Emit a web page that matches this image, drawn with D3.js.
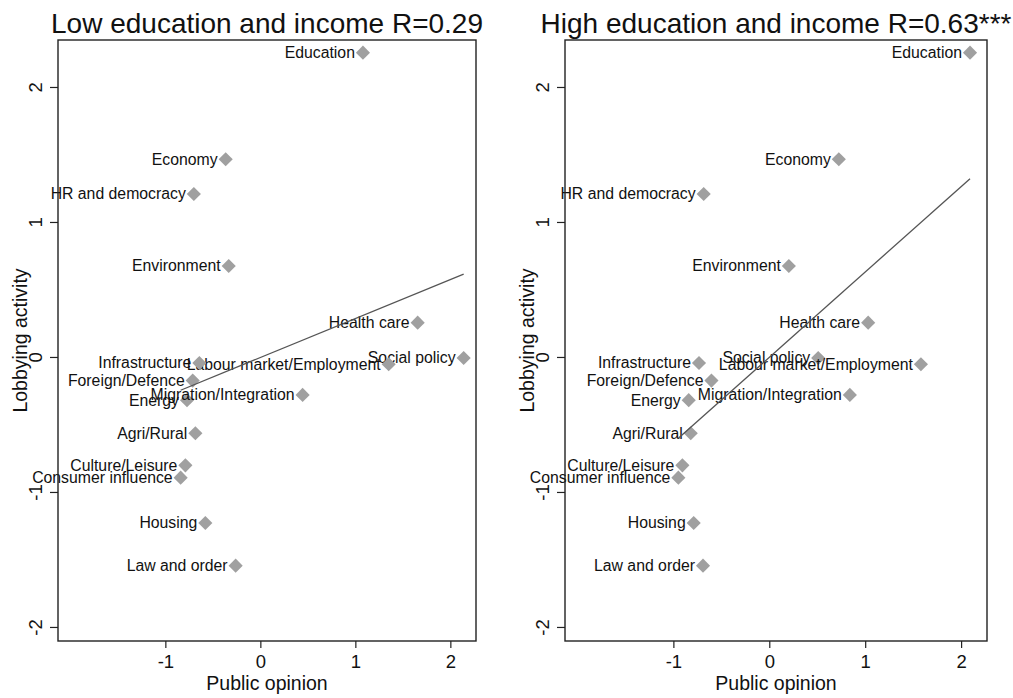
<!DOCTYPE html>
<html>
<head>
<meta charset="utf-8">
<script src="https://cdn.jsdelivr.net/npm/d3@7"></script>
<style>
  html, body { margin: 0; padding: 0; background: #fff; }
  svg { display: block; font-family: "Liberation Sans", Arial, Helvetica, sans-serif; }
</style>
</head>
<body>
<svg id="chart" width="1013" height="698"></svg>
<script>
// Policy areas (one point each)
const topics = [
  "Education", "Economy", "HR and democracy", "Environment", "Health care",
  "Social policy", "Labour market/Employment", "Infrastructure", "Foreign/Defence",
  "Energy", "Migration/Integration", "Agri/Rural", "Culture/Leisure",
  "Consumer influence", "Housing", "Law and order"
];

// Standardised lobbying activity per policy area (shared by both groups)
const lobbying = [
  2.254, 1.465, 1.207, 0.674, 0.254,
  -0.008, -0.054, -0.045, -0.175,
  -0.320, -0.281, -0.565, -0.803,
  -0.894, -1.230, -1.546
];

// Standardised public opinion salience, low education and income
const opinionLow = [
  1.080, -0.365, -0.700, -0.333, 1.656,
  2.140, 1.351, -0.642, -0.712,
  -0.772, 0.445, -0.684, -0.789,
  -0.839, -0.579, -0.260
];

// Standardised public opinion salience, high education and income
const opinionHigh = [
  2.093, 0.725, -0.684, 0.204, 1.031,
  0.510, 1.581, -0.733, -0.603,
  -0.840, 0.840, -0.819, -0.906,
  -0.948, -0.788, -0.691
];

const panelTitles = ["Low education and income R=0.29", "High education and income R=0.63***"];
const xTicks = [-1, 0, 1, 2];
const yTicks = [-2, -1, 0, 1, 2];
const xTitle = "Public opinion";
const yTitle = "Lobbying activity";

const svg = d3.select("#chart");
const plotTop = 40, plotBottom = 641;
const panels = [
  { left: 58, right: 476, x: opinionLow, title: panelTitles[0] },
  { left: 565, right: 987, x: opinionHigh, title: panelTitles[1] }
];

const y = d3.scaleLinear().domain([-2.104, 2.348]).range([plotBottom, plotTop]);
const markerColor = "#a0a0a0";
const diamond = d3.symbol().type(d3.symbolSquare).size(100);
const plainNumber = d => String(d);   // hyphen-minus, as in the axis labels

// least-squares fit of lobbying on opinion
function linearFit(xs, ys) {
  const mx = d3.mean(xs), my = d3.mean(ys);
  let sxy = 0, sxx = 0;
  xs.forEach((v, i) => { sxy += (v - mx) * (ys[i] - my); sxx += (v - mx) * (v - mx); });
  const b = sxy / sxx;
  return { a: my - b * mx, b };
}

panels.forEach(p => {
  const x = d3.scaleLinear().domain([-2.13, 2.27]).range([p.left, p.right]);
  const g = svg.append("g");
  const cx = (p.left + p.right) / 2;

  // title
  g.append("text")
    .attr("x", cx).attr("y", 33)
    .attr("text-anchor", "middle")
    .style("font-size", "28px").style("fill", "#111")
    .text(p.title);

  // x axis
  const xa = g.append("g").attr("transform", `translate(0,${plotBottom})`)
    .call(d3.axisBottom(x).tickValues(xTicks).tickSize(7).tickFormat(plainNumber));
  xa.select(".domain").remove();
  xa.selectAll("line").attr("stroke", "#222").attr("stroke-width", 1.2);
  xa.selectAll("text").style("font-size", "18.5px").style("fill", "#111")
    .attr("dy", null).attr("y", 27);

  // y axis with rotated tick labels
  const ya = g.append("g").attr("transform", `translate(${p.left},0)`)
    .call(d3.axisLeft(y).tickValues(yTicks).tickSize(8).tickFormat(plainNumber));
  ya.select(".domain").remove();
  ya.selectAll("line").attr("stroke", "#222").attr("stroke-width", 1.2);
  ya.selectAll("text")
    .style("font-size", "18.5px").style("fill", "#111")
    .attr("x", 0).attr("y", 0).attr("dy", null)
    .attr("text-anchor", "middle")
    .attr("transform", "translate(-16,0) rotate(-90)");

  // axis titles
  g.append("text")
    .attr("x", cx).attr("y", 690)
    .attr("text-anchor", "middle")
    .style("font-size", "19.5px").style("fill", "#111")
    .text(xTitle);
  g.append("text")
    .attr("transform", `translate(${p.left - 31},${(plotTop + plotBottom) / 2}) rotate(-90)`)
    .attr("text-anchor", "middle")
    .style("font-size", "19.5px").style("fill", "#111")
    .text(yTitle);

  // points with labels to the left
  const pts = topics.map((t, i) => ({ t, x: p.x[i], y: lobbying[i] }));
  const pg = g.append("g");
  pts.forEach(d => {
    pg.append("path")
      .attr("d", diamond)
      .attr("transform", `translate(${x(d.x)},${y(d.y)}) rotate(45)`)
      .attr("fill", markerColor);
    pg.append("text")
      .attr("x", x(d.x) - 8).attr("y", y(d.y) + 5.4)
      .attr("text-anchor", "end")
      .style("font-size", "15.8px").style("fill", "#111")
      .text(d.t);
  });

  // fitted line over the observed opinion range
  const fit = linearFit(p.x, lobbying);
  const [x0, x1] = d3.extent(p.x);
  g.append("line")
    .attr("x1", x(x0)).attr("y1", y(fit.a + fit.b * x0))
    .attr("x2", x(x1)).attr("y2", y(fit.a + fit.b * x1))
    .attr("stroke", "#555").attr("stroke-width", 1.3);

  // plot frame
  g.append("rect")
    .attr("x", p.left).attr("y", plotTop)
    .attr("width", p.right - p.left).attr("height", plotBottom - plotTop)
    .attr("fill", "none").attr("stroke", "#222").attr("stroke-width", 1.4);
});
</script>
</body>
</html>
